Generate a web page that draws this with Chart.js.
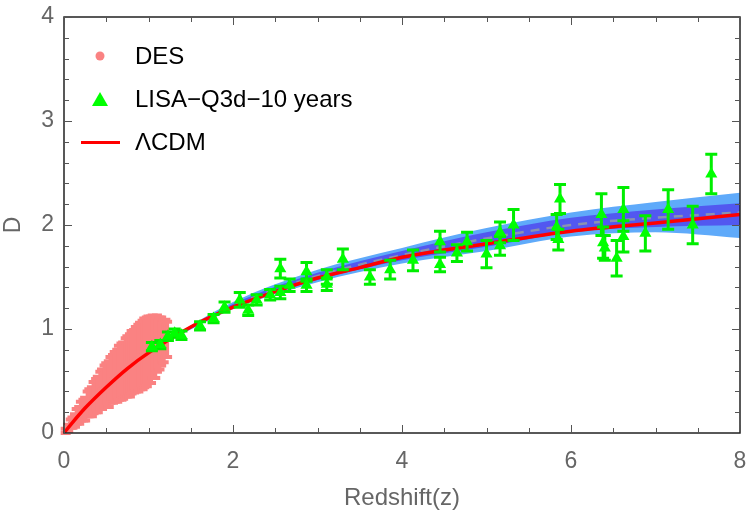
<!DOCTYPE html>
<html>
<head>
<meta charset="utf-8">
<script src="https://cdn.jsdelivr.net/npm/chart.js@4"></script>
<style>
  body { margin: 0; background: #fff; }
  #wrap { width: 750px; height: 517px; }
</style>
</head>
<body>
<div id="wrap"><canvas id="grafico" width="750" height="517"></canvas></div>
<script>
// ΛCDM curve
const lcdmZ = [0, 0.1, 0.25, 0.5, 0.75, 1, 1.5, 2, 2.5, 3, 3.5, 4, 5, 6, 7, 8];
const lcdmD = [0, 0.1, 0.24, 0.44, 0.62, 0.77, 1.02, 1.21, 1.36, 1.49, 1.59, 1.69, 1.82, 1.94, 2.02, 2.10];

// reconstructed band (dashed centre, 1 and 2 sigma)
const bandZ   = [1.2, 2, 3, 4, 5, 6, 7, 8];
const bandMid = [0.88, 1.22, 1.51, 1.71, 1.87, 2.00, 2.07, 2.12];
const in1Lo   = [0.875, 1.20, 1.47, 1.66, 1.79, 1.93, 1.98, 2.00];
const in1Hi   = [0.885, 1.24, 1.54, 1.75, 1.93, 2.07, 2.15, 2.21];
const out2Lo  = [0.87, 1.19, 1.45, 1.63, 1.75, 1.89, 1.93, 1.875];
const out2Hi  = [0.89, 1.26, 1.57, 1.78, 1.97, 2.12, 2.22, 2.31];

// DES points
const desZ   = [0.02, 0.05, 0.08, 0.10, 0.13, 0.15, 0.18, 0.20, 0.23, 0.25, 0.28, 0.30, 0.33, 0.35, 0.38, 0.40,
                0.43, 0.45, 0.48, 0.50, 0.53, 0.55, 0.58, 0.60, 0.63, 0.65, 0.68, 0.70, 0.73, 0.75, 0.78, 0.80,
                0.83, 0.85, 0.88, 0.90, 0.93, 0.95, 0.98, 1.00, 1.03, 1.05, 1.08, 1.10, 1.13, 1.15, 1.18, 1.20, 1.22];
const desD   = [0.02, 0.05, 0.09, 0.10, 0.12, 0.16, 0.17, 0.21, 0.22, 0.23, 0.28, 0.29, 0.30, 0.34, 0.36, 0.37,
                0.41, 0.42, 0.45, 0.46, 0.47, 0.51, 0.52, 0.54, 0.55, 0.58, 0.59, 0.60, 0.63, 0.64, 0.65, 0.68,
                0.69, 0.71, 0.72, 0.74, 0.75, 0.77, 0.78, 0.80, 0.80, 0.83, 0.82, 0.86, 0.86, 0.88, 0.88, 0.91, 0.90];
const desErr = [0.02, 0.03, 0.04, 0.05, 0.06, 0.07, 0.08, 0.09, 0.10, 0.11, 0.12, 0.13, 0.14, 0.15, 0.16, 0.17,
                0.18, 0.19, 0.20, 0.21, 0.22, 0.22, 0.23, 0.24, 0.25, 0.26, 0.27, 0.27, 0.28, 0.29, 0.30, 0.30,
                0.30, 0.31, 0.32, 0.32, 0.33, 0.33, 0.33, 0.32, 0.32, 0.30, 0.29, 0.27, 0.25, 0.23, 0.20, 0.18, 0.17];

// LISA-Q3d-10 years points
const lisaZ   = [1.04, 1.14, 1.23, 1.31, 1.39, 1.61, 1.77, 1.90, 2.08, 2.18, 2.28, 2.44, 2.56, 2.56, 2.67, 2.87,
                 2.87, 3.11, 3.11, 3.30, 3.62, 3.86, 4.13, 4.45, 4.45, 4.65, 4.77, 5.00, 5.16, 5.16, 5.32, 5.87,
                 5.83, 5.85, 6.36, 6.38, 6.40, 6.54, 6.62, 6.62, 6.88, 7.15, 7.44, 7.66];
const lisaD   = [0.83, 0.85, 0.93, 0.96, 0.94, 1.03, 1.10, 1.21, 1.28, 1.18, 1.28, 1.33, 1.58, 1.35, 1.42, 1.55,
                 1.42, 1.50, 1.43, 1.67, 1.50, 1.57, 1.66, 1.84, 1.62, 1.73, 1.84, 1.72, 1.93, 1.80, 2.00, 2.25,
                 1.98, 1.86, 2.10, 1.83, 1.78, 1.68, 2.15, 1.89, 1.92, 2.15, 2.00, 2.49];
const lisaErr = [0.04, 0.04, 0.04, 0.04, 0.04, 0.04, 0.04, 0.05, 0.07, 0.05, 0.05, 0.05, 0.09, 0.06, 0.06, 0.09,
                 0.06, 0.07, 0.06, 0.10, 0.07, 0.09, 0.10, 0.10, 0.07, 0.08, 0.09, 0.13, 0.10, 0.09, 0.15, 0.14,
                 0.12, 0.10, 0.20, 0.15, 0.12, 0.17, 0.21, 0.15, 0.17, 0.19, 0.18, 0.19];

const xTicks = [0, 2, 4, 6, 8];
const yTicks = [0, 1, 2, 3, 4];

const pts = (xs, ys) => xs.map((v, i) => ({ x: v, y: ys[i] }));
const fonte = '"Liberation Sans", Arial, sans-serif';
const cinza = '#666666';

// barras de erro desenhadas antes dos marcadores
const barrasErro = {
    id: 'barrasErro',
    beforeDatasetDraw(chart, args) {
        const ds = chart.data.datasets[args.index];
        if (!ds.erros) return;
        const { ctx, scales: { x, y } } = chart;
        ctx.save();
        ctx.strokeStyle = ds.corErro;
        ctx.lineWidth = ds.larguraErro;
        const cap = ds.capErro;
        ds.data.forEach((p, i) => {
            const e = ds.erros[i];
            const px = x.getPixelForValue(p.x);
            const t = y.getPixelForValue(p.y + e);
            const b = y.getPixelForValue(p.y - e);
            ctx.beginPath();
            ctx.moveTo(px, t); ctx.lineTo(px, b);
            ctx.moveTo(px - cap, t); ctx.lineTo(px + cap, t);
            ctx.moveTo(px - cap, b); ctx.lineTo(px + cap, b);
            ctx.stroke();
        });
        ctx.restore();
    }
};

// moldura com ticks para dentro + legenda
const moldura = {
    id: 'moldura',
    afterDraw(chart) {
        const { ctx, chartArea: a, scales: { x, y } } = chart;
        ctx.save();
        ctx.strokeStyle = '#222';
        ctx.lineWidth = 1.5;
        ctx.strokeRect(a.left, a.top, a.right - a.left, a.bottom - a.top);
        ctx.strokeStyle = '#555';
        ctx.lineWidth = 1;
        ctx.beginPath();
        for (let v = 0; v <= 8.001; v += 0.5) {
            const px = Math.round(x.getPixelForValue(v)) + 0.5;
            const len = Math.abs(v % 2) < 1e-6 ? 8 : 5;
            ctx.moveTo(px, a.bottom); ctx.lineTo(px, a.bottom - len);
            ctx.moveTo(px, a.top); ctx.lineTo(px, a.top + len);
        }
        for (let v = 0; v <= 4.001; v += 0.2) {
            const py = Math.round(y.getPixelForValue(v)) + 0.5;
            const len = Math.abs(v - Math.round(v)) < 1e-6 ? 8 : 5;
            ctx.moveTo(a.left, py); ctx.lineTo(a.left + len, py);
            ctx.moveTo(a.right, py); ctx.lineTo(a.right - len, py);
        }
        ctx.stroke();

        // legenda
        ctx.font = '24px ' + fonte;
        ctx.textBaseline = 'middle';
        ctx.fillStyle = 'rgb(250,130,130)';
        ctx.beginPath(); ctx.arc(100, 56, 4.5, 0, Math.PI * 2); ctx.fill();
        ctx.fillStyle = '#00ff00';
        ctx.beginPath(); ctx.moveTo(100, 92); ctx.lineTo(108, 106); ctx.lineTo(92, 106); ctx.closePath(); ctx.fill();
        ctx.strokeStyle = '#ff0000'; ctx.lineWidth = 3;
        ctx.beginPath(); ctx.moveTo(81, 142.5); ctx.lineTo(120, 142.5); ctx.stroke();
        ctx.fillStyle = '#000';
        ctx.fillText('DES', 135, 57);
        ctx.fillText('LISA\u2212Q3d\u221210 years', 135, 100);
        ctx.fillText('\u039bCDM', 135, 143);
        ctx.restore();
    }
};

const ctx1 = document.getElementById('grafico').getContext('2d');
new Chart(ctx1, {
    type: 'scatter',
    data: {
        datasets: [
            {
                label: 'LISA-Q3d-10 years',
                data: pts(lisaZ, lisaD),
                erros: lisaErr, corErro: '#00ee00', larguraErro: 3, capErro: 6,
                pointStyle: 'triangle', pointRadius: 7,
                backgroundColor: '#00ff00', borderColor: '#00ff00', borderWidth: 0,
                order: 0
            },
            {
                type: 'line', label: 'ΛCDM',
                data: pts(lcdmZ, lcdmD),
                borderColor: '#ff0000', borderWidth: 3.5, pointRadius: 0,
                cubicInterpolationMode: 'monotone', fill: false,
                order: 1
            },
            {
                type: 'line', label: 'mid',
                data: pts(bandZ, bandMid),
                borderColor: '#8a93b0', borderWidth: 2.5, borderDash: [9, 7], pointRadius: 0,
                cubicInterpolationMode: 'monotone', fill: false,
                order: 2
            },
            {
                type: 'line', label: 'in1Hi',
                data: pts(bandZ, in1Hi),
                borderWidth: 0, pointRadius: 0, cubicInterpolationMode: 'monotone',
                backgroundColor: 'rgb(82,88,240)', fill: '+1',
                order: 3
            },
            {
                type: 'line', label: 'in1Lo',
                data: pts(bandZ, in1Lo),
                borderWidth: 0, pointRadius: 0, cubicInterpolationMode: 'monotone', fill: false,
                order: 4
            },
            {
                type: 'line', label: 'out2Hi',
                data: pts(bandZ, out2Hi),
                borderWidth: 0, pointRadius: 0, cubicInterpolationMode: 'monotone',
                backgroundColor: 'rgb(95,170,250)', fill: '+1',
                order: 5
            },
            {
                type: 'line', label: 'out2Lo',
                data: pts(bandZ, out2Lo),
                borderWidth: 0, pointRadius: 0, cubicInterpolationMode: 'monotone', fill: false,
                order: 6
            },
            {
                label: 'DES',
                data: pts(desZ, desD),
                erros: desErr, corErro: 'rgb(250,130,130)', larguraErro: 4, capErro: 5,
                pointStyle: 'circle', pointRadius: 3,
                backgroundColor: 'rgb(250,130,130)', borderWidth: 0,
                order: 7
            }
        ]
    },
    options: {
        responsive: false,
        animation: false,
        layout: { padding: { top: 17, right: 10, left: 0, bottom: 0 } },
        scales: {
            x: {
                type: 'linear', min: 0, max: 8,
                afterFit: s => { s.height = 84; s.paddingLeft = 0; s.paddingRight = 0; },
                afterBuildTicks: s => { s.ticks = xTicks.map(v => ({ value: v })); },
                grid: { display: false, drawTicks: false },
                border: { display: false },
                ticks: { padding: 15, color: cinza, font: { family: fonte, size: 23 } },
                title: { display: true, text: 'Redshift(z)', color: cinza, font: { family: fonte, size: 24 },
                         padding: { top: 8, bottom: 4 } }
            },
            y: {
                type: 'linear', min: 0, max: 4,
                afterFit: s => { s.width = 64; s.paddingTop = 0; s.paddingBottom = 0; },
                afterBuildTicks: s => { s.ticks = yTicks.map(v => ({ value: v })); },
                grid: { display: false, drawTicks: false },
                border: { display: false },
                ticks: { padding: 10, color: cinza, font: { family: fonte, size: 23 } },
                title: { display: true, text: 'D', color: cinza, font: { family: fonte, size: 23 },
                         padding: { top: 0, bottom: 0 } }
            }
        },
        plugins: {
            legend: { display: false },
            tooltip: { enabled: false }
        }
    },
    plugins: [barrasErro, moldura]
});
</script>
</body>
</html>
